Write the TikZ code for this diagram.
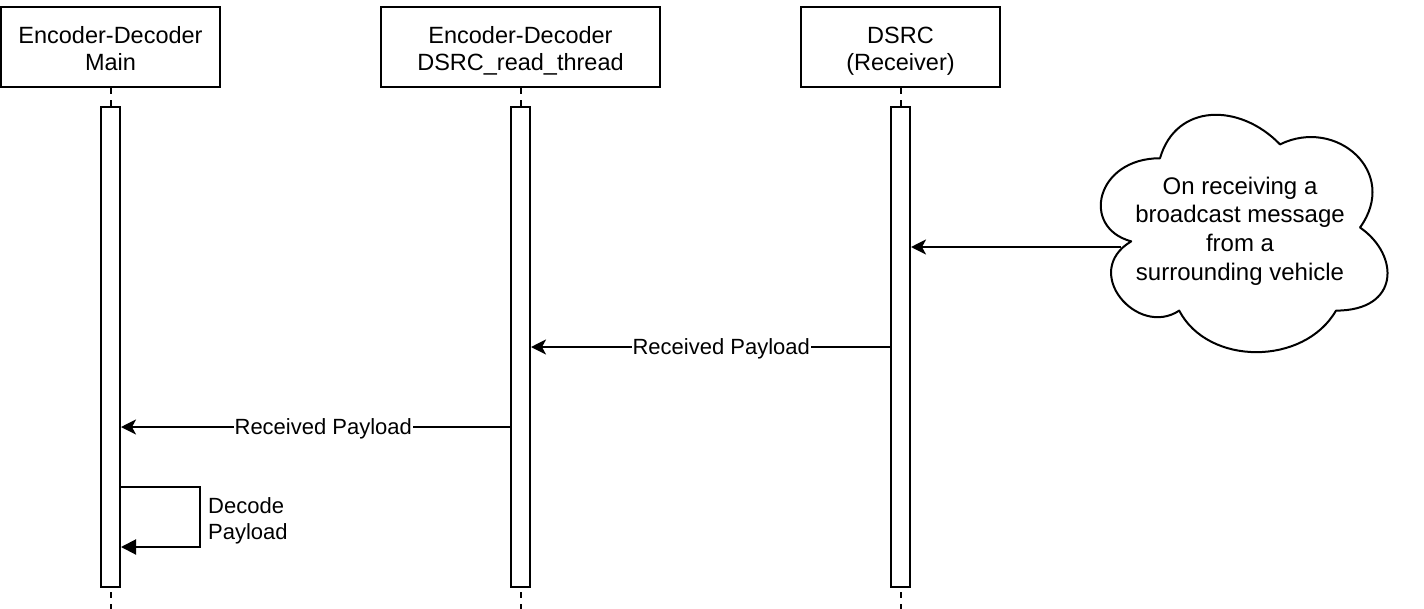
\documentclass[tikz,border=0pt]{standalone}
\usepackage{fontspec}
\setmainfont{Liberation Sans}
\usetikzlibrary{arrows.meta,calc}
\begin{document}
\begin{tikzpicture}[x=1pt,y=-1pt,
  hdr/.style={draw,line width=2pt,minimum height=80pt,inner sep=0pt,
              font=\fontsize{23.5}{27}\selectfont},
  life/.style={line width=2pt,dash pattern=on 6pt off 6pt},
  bar/.style={draw,fill=white,line width=2pt,minimum width=19pt,minimum height=480pt,inner sep=0pt},
  msg/.style={line width=2pt,-{Stealth[length=15pt,width=15pt,inset=4pt]}},
  selfmsg/.style={line width=2pt,-{Triangle[length=15pt,width=15pt]}},
  lbl/.style={fill=white,inner sep=1pt,font=\fontsize{22}{26.4}\selectfont},
  cloudline/.style={line width=2pt,line join=round},
  cloudtxt/.style={align=center,inner sep=0pt,font=\fontsize{24}{28.8}\selectfont}
]
\useasboundingbox (0,0) rectangle (1424,608);
\newcommand{\hdrtext}[2]{\raisebox{-5pt}[\height][\depth]{\begin{tabular}{@{}c@{}}#1\\#2\end{tabular}}}

% headers
\node[hdr,minimum width=219pt] (h1) at (110.5,47) {\hdrtext{Encoder-Decoder}{Main}};
\node[hdr,minimum width=279pt] (h2) at (520.5,47) {\hdrtext{Encoder-Decoder}{DSRC\_read\_thread}};
\node[hdr,minimum width=199pt] (h3) at (900.5,47) {\hdrtext{DSRC}{(Receiver)}};

% lifelines
\coordinate (e1) at (110.5,612);
\coordinate (e2) at (520.5,612);
\coordinate (e3) at (900.5,612);
\draw[life] (h1.south) -- (e1);
\draw[life] (h2.south) -- (e2);
\draw[life] (h3.south) -- (e3);

% activation bars
\node[bar] (b1) at (110.5,347) {};
\node[bar] (b2) at (520.5,347) {};
\node[bar] (b3) at (900.5,347) {};

% cloud
\begin{scope}[shift={(1080,89)},x=320pt,y=-277pt]
\draw[cloudline] (0.25,0.25)
  .. controls (0.05,0.25) and (0,0.5) .. (0.16,0.55)
  .. controls (0,0.66) and (0.18,0.9) .. (0.31,0.8)
  .. controls (0.4,1) and (0.7,1) .. (0.8,0.8)
  .. controls (1,0.8) and (1,0.6) .. (0.875,0.5)
  .. controls (1,0.3) and (0.8,0.1) .. (0.625,0.2)
  .. controls (0.5,0.05) and (0.3,0.05) .. (0.25,0.25) -- cycle;
\end{scope}
\node[cloudtxt] (cl) at (1240,231) {On receiving a\\broadcast message\\from a\\surrounding vehicle};
\coordinate (src) at (1121,247);

% messages
\coordinate (y2) at (0,347);
\coordinate (y3) at (0,427);
\coordinate (ya) at (0,487);
\coordinate (yb) at (0,547);
\coordinate (sx) at (200,0);
\draw[msg] (src) -- (src -| b3.east);
\draw[msg] (b3.west |- y2) -- node[lbl,pos=0.47,yshift=-2pt] (l1) {Received Payload} (b2.east |- y2);
\draw[msg] (b2.west |- y3) -- node[lbl,pos=0.48,yshift=-2pt] (l2) {Received Payload} (b1.east |- y3);
\draw[selfmsg] (b1.east |- ya) -- (sx |- ya) -- (sx |- yb) -- (b1.east |- yb);
\node[anchor=west,align=left,inner sep=0pt,font=\fontsize{22}{26.4}\selectfont] (dl) at (208,521) {Decode\\Payload};
\end{tikzpicture}
\end{document}
